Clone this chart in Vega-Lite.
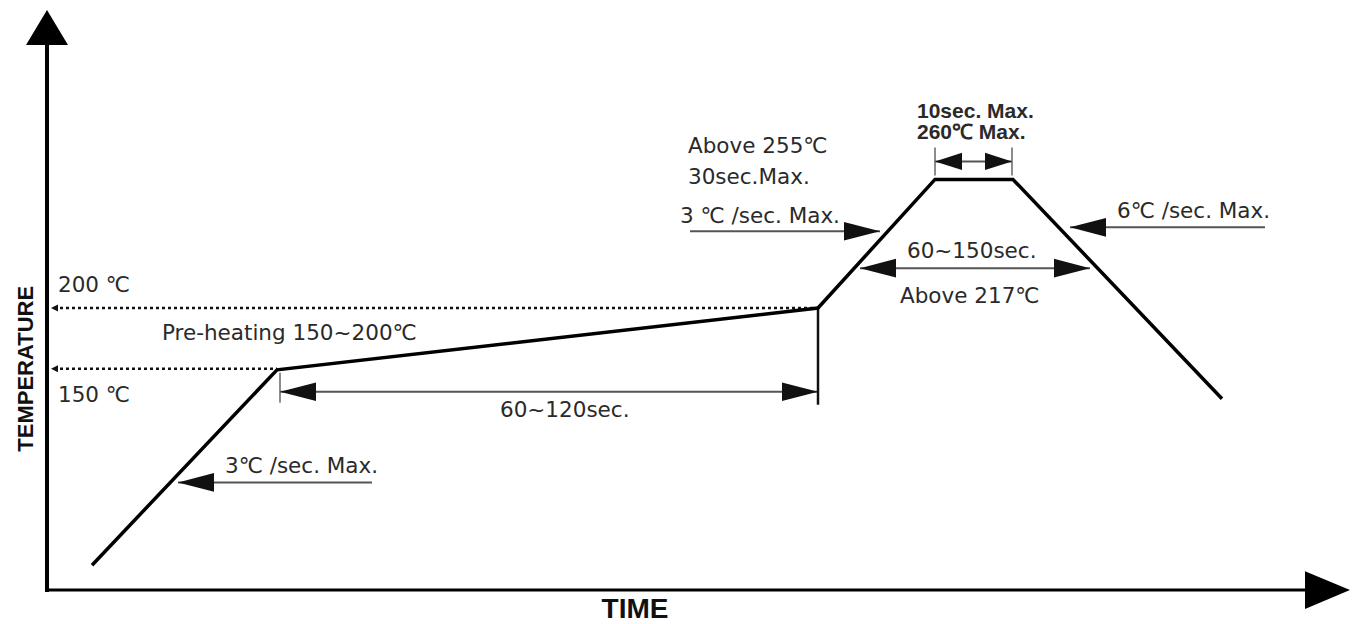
{
  "$schema": "https://vega.github.io/schema/vega-lite/v6.json",
  "width": 1352,
  "height": 624,
  "autosize": {"type": "fit", "contains": "padding"},
  "padding": 0,
  "background": "white",
  "config": {"view": {"stroke": null}},
  "datasets": {
    "segs": [
      {"x1": 47, "y1": 40, "x2": 47, "y2": 594, "kind": "yaxis"},
      {"x1": 45, "y1": 592, "x2": 1310, "y2": 592, "kind": "xaxis"},
      {"x1": 54, "y1": 309, "x2": 818, "y2": 309, "kind": "dotted"},
      {"x1": 54, "y1": 370, "x2": 277, "y2": 370, "kind": "dotted"},
      {"x1": 818, "y1": 309, "x2": 818, "y2": 406, "kind": "tick"},
      {"x1": 280, "y1": 374, "x2": 280, "y2": 404, "kind": "thin"},
      {"x1": 935, "y1": 148, "x2": 935, "y2": 176, "kind": "thin"},
      {"x1": 1012, "y1": 148, "x2": 1012, "y2": 176, "kind": "thin"},
      {"x1": 280, "y1": 393, "x2": 818, "y2": 393, "kind": "dim"},
      {"x1": 178, "y1": 484, "x2": 372, "y2": 484, "kind": "dim"},
      {"x1": 690, "y1": 232, "x2": 880, "y2": 232, "kind": "dim"},
      {"x1": 1070, "y1": 228, "x2": 1265, "y2": 228, "kind": "dim"},
      {"x1": 860, "y1": 269, "x2": 1090, "y2": 269, "kind": "dim"},
      {"x1": 935, "y1": 162, "x2": 1012, "y2": 162, "kind": "dim"}
    ],
    "profile": [
      {"order": 1, "x": 92, "y": 567},
      {"order": 2, "x": 277, "y": 371},
      {"order": 3, "x": 818, "y": 309},
      {"order": 4, "x": 935, "y": 180},
      {"order": 5, "x": 1013, "y": 180},
      {"order": 6, "x": 1222, "y": 400}
    ],
    "heads": [
      {"x": 280, "y": 393, "dir": "left", "kind": "big"},
      {"x": 178, "y": 484, "dir": "left", "kind": "big"},
      {"x": 1070, "y": 228, "dir": "left", "kind": "big"},
      {"x": 860, "y": 269, "dir": "left", "kind": "big"},
      {"x": 818, "y": 393, "dir": "right", "kind": "big"},
      {"x": 880, "y": 232, "dir": "right", "kind": "big"},
      {"x": 1090, "y": 269, "dir": "right", "kind": "big"},
      {"x": 935, "y": 162, "dir": "left", "kind": "small"},
      {"x": 1012, "y": 162, "dir": "right", "kind": "small"},
      {"x": 51, "y": 309, "dir": "left", "kind": "tiny"},
      {"x": 51, "y": 370, "dir": "left", "kind": "tiny"},
      {"x": 47, "y": 10, "dir": "up", "kind": "axis"},
      {"x": 1350, "y": 592, "dir": "right", "kind": "axis"}
    ],
    "labels": [
      {"x": 58, "y": 287, "label": "200 ℃", "weight": "normal"},
      {"x": 58, "y": 397, "label": "150 ℃", "weight": "normal"},
      {"x": 162, "y": 335, "label": "Pre-heating 150~200℃", "weight": "normal"},
      {"x": 500, "y": 412, "label": "60~120sec.", "weight": "normal"},
      {"x": 225, "y": 468, "label": "3℃ /sec. Max.", "weight": "normal"},
      {"x": 688, "y": 147, "label": "Above 255℃", "weight": "normal"},
      {"x": 688, "y": 179, "label": "30sec.Max.", "weight": "normal"},
      {"x": 680, "y": 218, "label": "3 ℃ /sec. Max.", "weight": "normal"},
      {"x": 1117, "y": 213, "label": "6℃ /sec. Max.", "weight": "normal"},
      {"x": 907, "y": 253, "label": "60~150sec.", "weight": "normal"},
      {"x": 900, "y": 298, "label": "Above 217℃", "weight": "normal"},
      {"x": 917, "y": 112, "label": "10sec. Max.", "weight": "bold"},
      {"x": 917, "y": 133, "label": "260℃ Max.", "weight": "bold"}
    ],
    "titles": [
      {"x": 635, "y": 612, "label": "TIME", "orient": "h"},
      {"x": 26, "y": 370, "label": "TEMPERATURE", "orient": "v"}
    ]
  },
  "layer": [
    {
      "data": {"name": "segs"},
      "transform": [{"filter": "datum.kind === 'dotted'"}],
      "mark": {"type": "rule", "color": "#111", "strokeWidth": 2.5, "strokeDash": [3, 3]},
      "encoding": {
        "x": {"field": "x1", "type": "quantitative", "scale": {"domain": [0, 1352], "nice": false, "zero": false}, "axis": null},
        "x2": {"field": "x2"},
        "y": {"field": "y1", "type": "quantitative", "scale": {"domain": [0, 624], "nice": false, "zero": false, "reverse": true}, "axis": null},
        "y2": {"field": "y2"}
      }
    },
    {
      "data": {"name": "segs"},
      "transform": [{"filter": "datum.kind === 'dim'"}],
      "mark": {"type": "rule", "color": "#555", "strokeWidth": 2},
      "encoding": {
        "x": {"field": "x1", "type": "quantitative", "axis": null},
        "x2": {"field": "x2"},
        "y": {"field": "y1", "type": "quantitative", "axis": null},
        "y2": {"field": "y2"}
      }
    },
    {
      "data": {"name": "segs"},
      "transform": [{"filter": "datum.kind === 'thin'"}],
      "mark": {"type": "rule", "color": "#666", "strokeWidth": 1.5},
      "encoding": {
        "x": {"field": "x1", "type": "quantitative", "axis": null},
        "x2": {"field": "x2"},
        "y": {"field": "y1", "type": "quantitative", "axis": null},
        "y2": {"field": "y2"}
      }
    },
    {
      "data": {"name": "segs"},
      "transform": [{"filter": "datum.kind === 'tick'"}],
      "mark": {"type": "rule", "color": "#111", "strokeWidth": 2.5},
      "encoding": {
        "x": {"field": "x1", "type": "quantitative", "axis": null},
        "x2": {"field": "x2"},
        "y": {"field": "y1", "type": "quantitative", "axis": null},
        "y2": {"field": "y2"}
      }
    },
    {
      "data": {"name": "segs"},
      "transform": [{"filter": "datum.kind === 'yaxis'"}],
      "mark": {"type": "rule", "color": "#000", "strokeWidth": 4},
      "encoding": {
        "x": {"field": "x1", "type": "quantitative", "axis": null},
        "x2": {"field": "x2"},
        "y": {"field": "y1", "type": "quantitative", "axis": null},
        "y2": {"field": "y2"}
      }
    },
    {
      "data": {"name": "segs"},
      "transform": [{"filter": "datum.kind === 'xaxis'"}],
      "mark": {"type": "rule", "color": "#000", "strokeWidth": 3},
      "encoding": {
        "x": {"field": "x1", "type": "quantitative", "axis": null},
        "x2": {"field": "x2"},
        "y": {"field": "y1", "type": "quantitative", "axis": null},
        "y2": {"field": "y2"}
      }
    },
    {
      "data": {"name": "profile"},
      "mark": {"type": "line", "color": "#000", "strokeWidth": 3.5, "strokeJoin": "miter"},
      "encoding": {
        "x": {"field": "x", "type": "quantitative", "axis": null},
        "y": {"field": "y", "type": "quantitative", "axis": null},
        "order": {"field": "order", "type": "quantitative"}
      }
    },
    {
      "data": {"name": "heads"},
      "transform": [{"filter": "datum.kind === 'big' && datum.dir === 'left'"}],
      "mark": {"type": "point", "shape": "M0,0L1,-0.26L1,0.26Z", "size": 5184, "filled": true, "fill": "#111", "strokeWidth": 0, "opacity": 1},
      "encoding": {
        "x": {"field": "x", "type": "quantitative", "axis": null},
        "y": {"field": "y", "type": "quantitative", "axis": null}
      }
    },
    {
      "data": {"name": "heads"},
      "transform": [{"filter": "datum.kind === 'big' && datum.dir === 'right'"}],
      "mark": {"type": "point", "shape": "M0,0L-1,-0.26L-1,0.26Z", "size": 5184, "filled": true, "fill": "#111", "strokeWidth": 0, "opacity": 1},
      "encoding": {
        "x": {"field": "x", "type": "quantitative", "axis": null},
        "y": {"field": "y", "type": "quantitative", "axis": null}
      }
    },
    {
      "data": {"name": "heads"},
      "transform": [{"filter": "datum.kind === 'small' && datum.dir === 'left'"}],
      "mark": {"type": "point", "shape": "M0,0L1,-0.32L1,0.32Z", "size": 2916, "filled": true, "fill": "#111", "strokeWidth": 0, "opacity": 1},
      "encoding": {
        "x": {"field": "x", "type": "quantitative", "axis": null},
        "y": {"field": "y", "type": "quantitative", "axis": null}
      }
    },
    {
      "data": {"name": "heads"},
      "transform": [{"filter": "datum.kind === 'small' && datum.dir === 'right'"}],
      "mark": {"type": "point", "shape": "M0,0L-1,-0.32L-1,0.32Z", "size": 2916, "filled": true, "fill": "#111", "strokeWidth": 0, "opacity": 1},
      "encoding": {
        "x": {"field": "x", "type": "quantitative", "axis": null},
        "y": {"field": "y", "type": "quantitative", "axis": null}
      }
    },
    {
      "data": {"name": "heads"},
      "transform": [{"filter": "datum.kind === 'tiny'"}],
      "mark": {"type": "point", "shape": "M0,0L1,-0.5L1,0.5Z", "size": 196, "filled": true, "fill": "#111", "strokeWidth": 0, "opacity": 1},
      "encoding": {
        "x": {"field": "x", "type": "quantitative", "axis": null},
        "y": {"field": "y", "type": "quantitative", "axis": null}
      }
    },
    {
      "data": {"name": "heads"},
      "transform": [{"filter": "datum.kind === 'axis' && datum.dir === 'up'"}],
      "mark": {"type": "point", "shape": "M0,0L-0.6,1L0.6,1Z", "size": 4900, "filled": true, "fill": "#000", "strokeWidth": 0, "opacity": 1},
      "encoding": {
        "x": {"field": "x", "type": "quantitative", "axis": null},
        "y": {"field": "y", "type": "quantitative", "axis": null}
      }
    },
    {
      "data": {"name": "heads"},
      "transform": [{"filter": "datum.kind === 'axis' && datum.dir === 'right'"}],
      "mark": {"type": "point", "shape": "M0,0L-1,-0.42L-1,0.42Z", "size": 8100, "filled": true, "fill": "#000", "strokeWidth": 0, "opacity": 1},
      "encoding": {
        "x": {"field": "x", "type": "quantitative", "axis": null},
        "y": {"field": "y", "type": "quantitative", "axis": null}
      }
    },
    {
      "data": {"name": "labels"},
      "transform": [{"filter": "datum.weight === 'normal'"}],
      "mark": {"type": "text", "align": "left", "baseline": "middle", "font": "DejaVu Sans", "fontSize": 21.5, "color": "#2a2a2a"},
      "encoding": {
        "x": {"field": "x", "type": "quantitative", "axis": null},
        "y": {"field": "y", "type": "quantitative", "axis": null},
        "text": {"field": "label"}
      }
    },
    {
      "data": {"name": "labels"},
      "transform": [{"filter": "datum.weight === 'bold'"}],
      "mark": {"type": "text", "align": "left", "baseline": "middle", "font": "Liberation Sans", "fontWeight": "bold", "fontSize": 21, "color": "#2a2a2a"},
      "encoding": {
        "x": {"field": "x", "type": "quantitative", "axis": null},
        "y": {"field": "y", "type": "quantitative", "axis": null},
        "text": {"field": "label"}
      }
    },
    {
      "data": {"name": "titles"},
      "transform": [{"filter": "datum.orient === 'h'"}],
      "mark": {"type": "text", "align": "center", "baseline": "middle", "font": "Liberation Sans", "fontWeight": "bold", "fontSize": 28, "color": "#111"},
      "encoding": {
        "x": {"field": "x", "type": "quantitative", "axis": null},
        "y": {"field": "y", "type": "quantitative", "axis": null},
        "text": {"field": "label"}
      }
    },
    {
      "data": {"name": "titles"},
      "transform": [{"filter": "datum.orient === 'v'"}],
      "mark": {"type": "text", "align": "center", "baseline": "middle", "angle": 270, "font": "Liberation Sans", "fontWeight": "bold", "fontSize": 22, "color": "#111"},
      "encoding": {
        "x": {"field": "x", "type": "quantitative", "axis": null},
        "y": {"field": "y", "type": "quantitative", "axis": null},
        "text": {"field": "label"}
      }
    }
  ]
}
